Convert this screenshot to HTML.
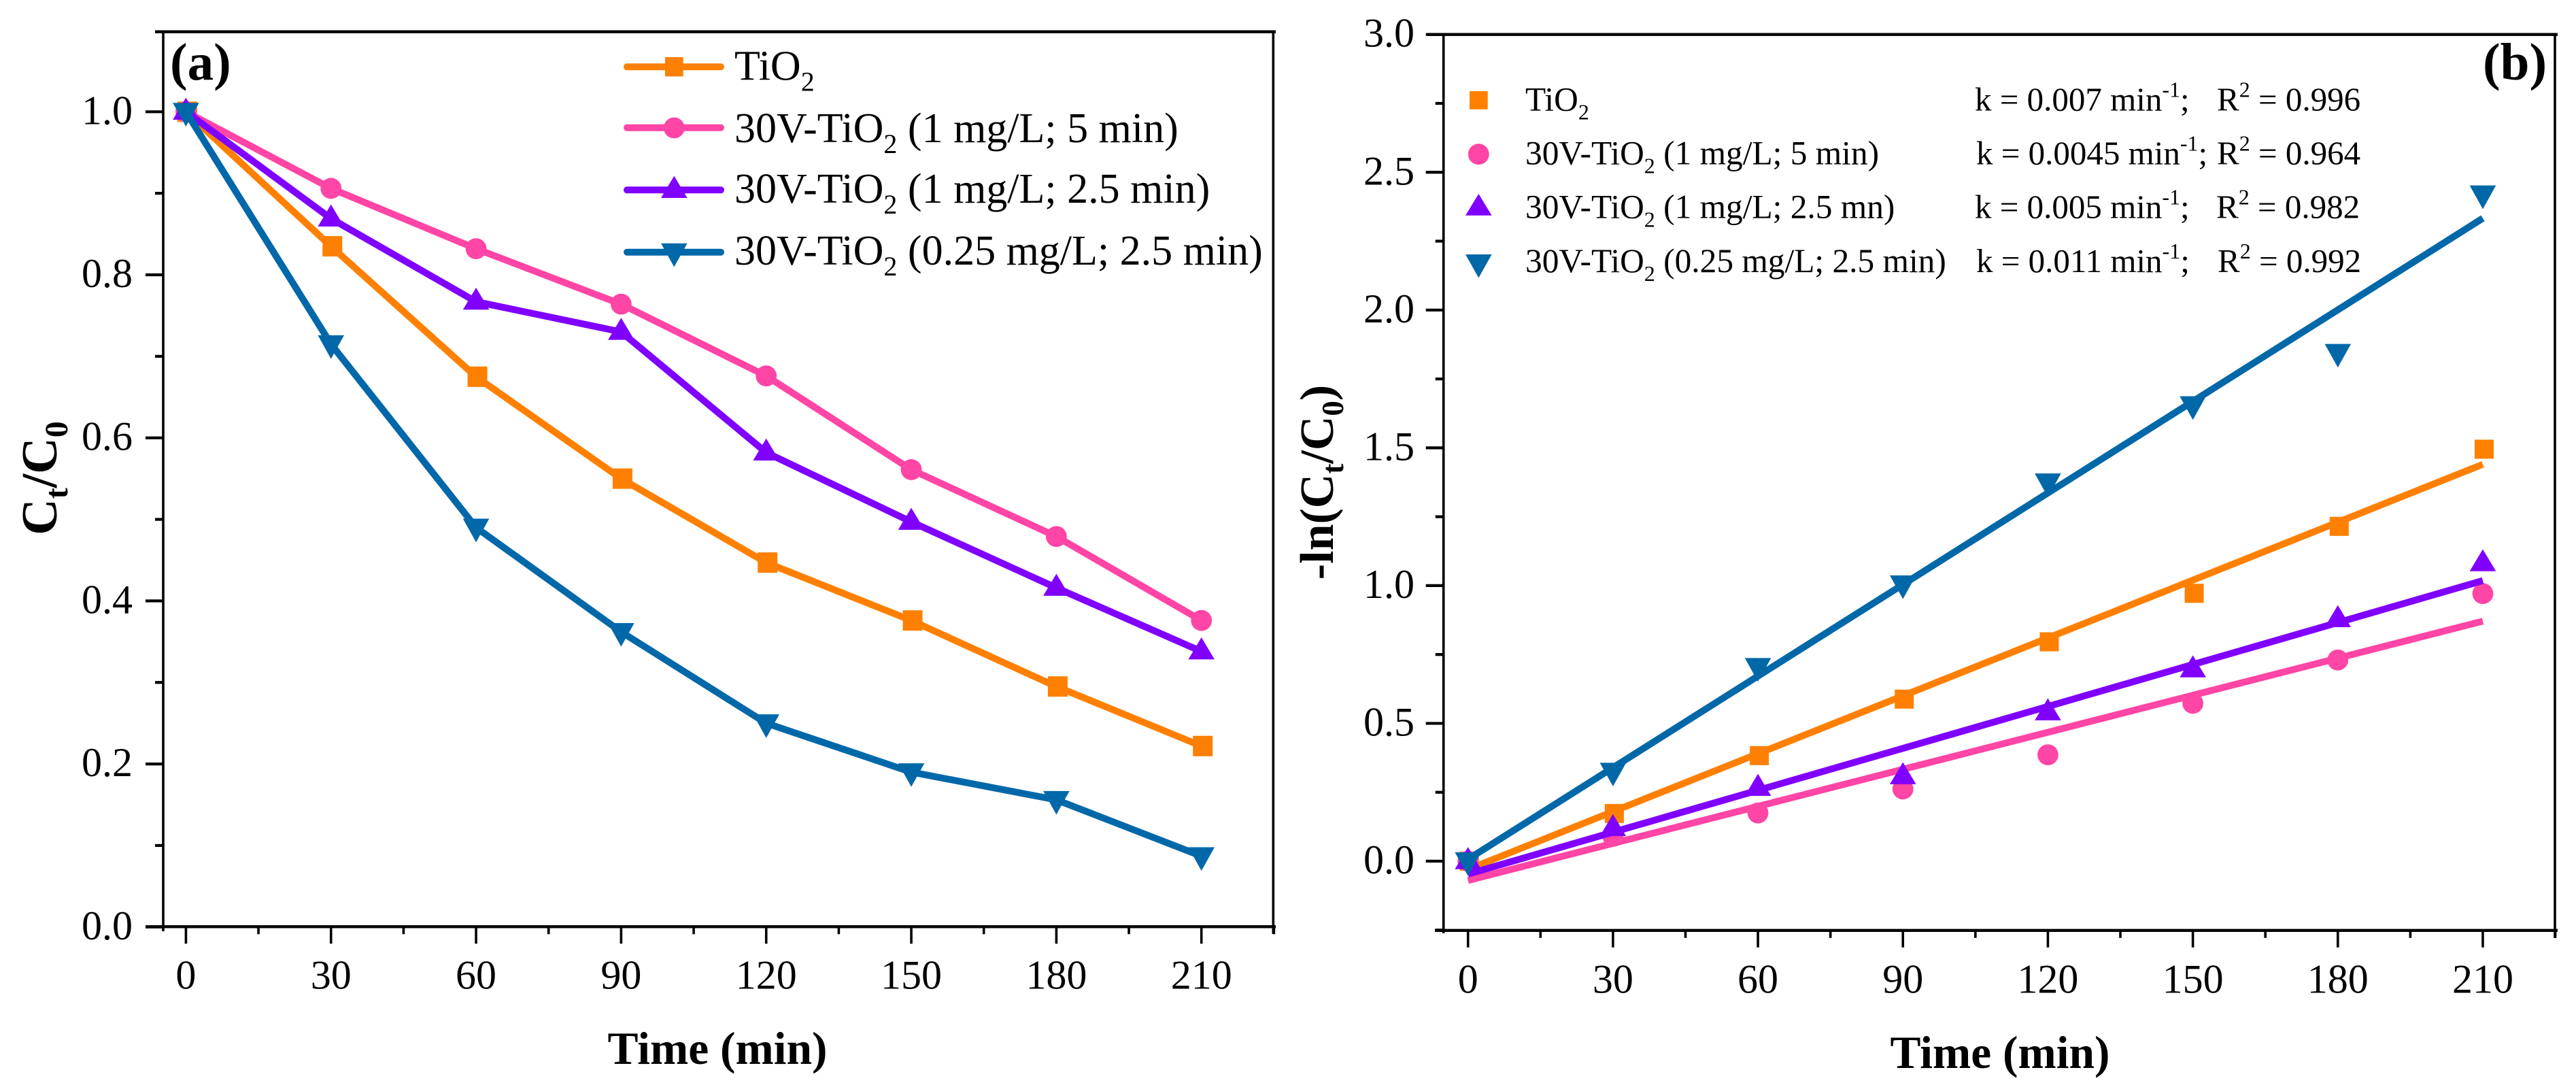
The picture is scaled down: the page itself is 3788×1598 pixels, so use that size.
<!DOCTYPE html>
<html lang="en">
<head>
<meta charset="utf-8">
<title>Photocatalytic degradation kinetics of TiO2 samples</title>
<style>
html,body{margin:0;padding:0;background:#fff;}
svg{display:block;}
text{font-family:"Liberation Serif","Times New Roman",serif;fill:#000;}
.title{font-weight:bold;font-size:67.5px;}
.tick{font-size:60px;}
.lg{font-size:62px;}
.lgb{font-size:49.4px;}
.lgk{font-size:49px;}
.panel{font-weight:bold;font-size:77px;}
</style>
</head>
<body>
<svg id="figure" xmlns="http://www.w3.org/2000/svg" width="3788" height="1598" viewBox="0 0 3788 1598">
  <rect width="3788" height="1598" fill="#fff"/>

  <g id="panel-a">
    <g stroke="#000">
      <line x1="228" y1="46.7" x2="1876" y2="46.7" stroke-width="4.4"/>
      <line x1="214" y1="1362.3" x2="1876" y2="1362.3" stroke-width="4.4"/>
      <line x1="240" y1="45" x2="240" y2="1369" stroke-width="3.6"/>
      <line x1="1872.3" y1="45" x2="1872.3" y2="1373" stroke-width="3.6"/>
    </g>
    <g id="a-ticks"></g>
    <g id="a-series"></g>
    <text class="panel" x="250" y="117">(a)</text>
    <text class="title" x="1055" y="1564" text-anchor="middle">Time (min)</text>
    <text class="title" transform="translate(83 703) rotate(-90)" text-anchor="middle" style="font-size:74px">C<tspan font-size="48" dy="16">t</tspan><tspan dy="-16">/C</tspan><tspan font-size="48" dy="16">0</tspan></text>

    <g>
      <g>
        <line x1="922" y1="98.3" x2="1060" y2="98.3" stroke="#ff8000" stroke-width="10" stroke-linecap="round"/>
        <rect x="978" y="84" width="26.7" height="28.4" fill="#ff8000"/>
        <text class="lg" x="1080" y="117.7">TiO<tspan font-size="40" dy="16">2</tspan></text>
      </g>
      <g>
        <line x1="922" y1="187.7" x2="1060" y2="187.7" stroke="#ff45a5" stroke-width="10" stroke-linecap="round"/>
        <circle cx="991.3" cy="188" r="15.4" fill="#ff45a5"/>
        <text class="lg" x="1080" y="209">30V-TiO<tspan font-size="40" dy="16">2</tspan><tspan dy="-16"> (1 mg/L; 5 min)</tspan></text>
      </g>
      <g>
        <line x1="922" y1="279.3" x2="1060" y2="279.3" stroke="#8000ff" stroke-width="10" stroke-linecap="round"/>
        <polygon points="991.3,258.6 1010.6,291 972,291" fill="#8000ff"/>
        <text class="lg" x="1080" y="298">30V-TiO<tspan font-size="40" dy="16">2</tspan><tspan dy="-16"> (1 mg/L; 2.5 min)</tspan></text>
      </g>
      <g>
        <line x1="922" y1="370.7" x2="1060" y2="370.7" stroke="#0068a9" stroke-width="10" stroke-linecap="round"/>
        <polygon points="972,357.7 1010.6,357.7 991.3,392.4" fill="#0068a9"/>
        <text class="lg" x="1080" y="389">30V-TiO<tspan font-size="40" dy="16">2</tspan><tspan dy="-16"> (0.25 mg/L; 2.5 min)</tspan></text>
      </g>
    </g>
  </g>

  <g id="panel-b">
    <g stroke="#000">
      <line x1="2098" y1="50.7" x2="3761" y2="50.7" stroke-width="4.4"/>
      <line x1="2110" y1="1367.8" x2="3761" y2="1367.8" stroke-width="4.4"/>
      <line x1="2122.7" y1="49" x2="2122.7" y2="1372" stroke-width="3.6"/>
      <line x1="3757" y1="49" x2="3757" y2="1379" stroke-width="3.6"/>
    </g>
    <g id="b-ticks"></g>
    <g id="b-series"></g>
    <text class="panel" x="3651" y="117">(b)</text>
    <text class="title" x="2941" y="1570" text-anchor="middle">Time (min)</text>
    <text class="title" transform="translate(1960 709) rotate(-90)" text-anchor="middle" style="font-size:70px">-ln(C<tspan font-size="45" dy="15">t</tspan><tspan dy="-15">/C</tspan><tspan font-size="45" dy="15">0</tspan><tspan dy="-15">)</tspan></text>

    <g>
      <rect x="2161" y="134" width="26.7" height="26.7" fill="#ff8000"/>
      <circle cx="2174.3" cy="226.7" r="15.4" fill="#ff45a5"/>
      <polygon points="2174.3,285 2193.6,316.7 2155,316.7" fill="#8000ff"/>
      <polygon points="2155,374 2193.6,374 2174.3,408.5" fill="#0068a9"/>
      <text class="lgb" x="2243" y="162.7">TiO<tspan font-size="32" dy="13">2</tspan></text>
      <text class="lgb" x="2243" y="241.7">30V-TiO<tspan font-size="32" dy="13">2</tspan><tspan dy="-13"> (1 mg/L; 5 min)</tspan></text>
      <text class="lgb" x="2243" y="320.7">30V-TiO<tspan font-size="32" dy="13">2</tspan><tspan dy="-13"> (1 mg/L; 2.5 mn)</tspan></text>
      <text class="lgb" x="2243" y="400">30V-TiO<tspan font-size="32" dy="13">2</tspan><tspan dy="-13"> (0.25 mg/L; 2.5 min)</tspan></text>

      <text class="lgk" x="2904" y="162.3">k = 0.007 min<tspan font-size="32" dy="-20">-1</tspan><tspan dy="20">;</tspan></text>
      <text class="lgk" x="3260" y="162.3">R<tspan font-size="32" dy="-20">2</tspan><tspan dy="20"> = 0.996</tspan></text>
      <text class="lgk" x="2906" y="241.7">k = 0.0045 min<tspan font-size="32" dy="-20">-1</tspan><tspan dy="20">;</tspan></text>
      <text class="lgk" x="3260" y="241.7">R<tspan font-size="32" dy="-20">2</tspan><tspan dy="20"> = 0.964</tspan></text>
      <text class="lgk" x="2904" y="320.7">k = 0.005 min<tspan font-size="32" dy="-20">-1</tspan><tspan dy="20">;</tspan></text>
      <text class="lgk" x="3259" y="320.7">R<tspan font-size="32" dy="-20">2</tspan><tspan dy="20"> = 0.982</tspan></text>
      <text class="lgk" x="2906" y="400">k = 0.011 min<tspan font-size="32" dy="-20">-1</tspan><tspan dy="20">;</tspan></text>
      <text class="lgk" x="3261" y="400">R<tspan font-size="32" dy="-20">2</tspan><tspan dy="20"> = 0.992</tspan></text>
    </g>
  </g>
</svg>

<script>
// Shared categories and tick labels
const timeMinutes = [0, 30, 60, 90, 120, 150, 180, 210];
const xMajorTicks = [0, 30, 60, 90, 120, 150, 180, 210];
const xMinorTicks = [15, 45, 75, 105, 135, 165, 195, 225];

// Panel (a): Ct/C0
const aTiO2 = [1.0, 0.835, 0.675, 0.55, 0.447, 0.376, 0.295, 0.222];
const aOneMgFiveMin = [1.0, 0.906, 0.832, 0.764, 0.676, 0.561, 0.479, 0.376];
const aOneMgTwoHalfMin = [1.0, 0.869, 0.767, 0.73, 0.582, 0.497, 0.416, 0.338];
const aQuarterMgTwoHalfMin = [1.0, 0.715, 0.49, 0.362, 0.25, 0.19, 0.156, 0.087];
const aYMajorTicks = [0, 0.2, 0.4, 0.6, 0.8, 1.0];
const aYTickLabels = ['0.0', '0.2', '0.4', '0.6', '0.8', '1.0'];
const aYMinorTicks = [0.1, 0.3, 0.5, 0.7, 0.9];

// Panel (b): -ln(Ct/C0) measured points
const bTiO2 = [0, 0.173, 0.383, 0.588, 0.796, 0.972, 1.215, 1.495];
const bOneMgFiveMin = [0, 0.09, 0.175, 0.262, 0.386, 0.573, 0.73, 0.971];
const bOneMgTwoHalfMin = [0, 0.12, 0.266, 0.308, 0.54, 0.696, 0.878, 1.081];
const bQuarterMgTwoHalfMin = [0, 0.325, 0.705, 1.005, 1.375, 1.655, 1.845, 2.42];

// Panel (b): linear fit values at t = 0 and t = 210
const fitTimes = [0, 210];
const fitTiO2 = [-0.03, 1.44];
const fitOneMgFiveMin = [-0.07, 0.871];
const fitOneMgTwoHalfMin = [-0.047, 1.018];
const fitQuarterMgTwoHalfMin = [0.007, 2.333];

const bYMajorTicks = [0, 0.5, 1.0, 1.5, 2.0, 2.5, 3.0];
const bYTickLabels = ['0.0', '0.5', '1.0', '1.5', '2.0', '2.5', '3.0'];
const bYMinorTicks = [-0.25, 0.25, 0.75, 1.25, 1.75, 2.25, 2.75];

const NS = 'http://www.w3.org/2000/svg';

const axA = {
  x: function (t) { return 273.4 + t * 7.111; },
  y: function (v) { return 1362.8 - v * 1198.5; }
};
const axB = {
  x: function (t) { return 2158.7 + t * 7.106; },
  y: function (v) { return 1266 - v * 405.1; }
};

function hLine(parent, x1, x2, y, name) {
  const el = document.createElementNS(NS, 'line');
  el.setAttribute('x1', x1);
  el.setAttribute('x2', x2);
  el.setAttribute('y1', y);
  el.setAttribute('y2', y);
  el.setAttribute('stroke', '#000');
  el.setAttribute('stroke-width', '4.2');
  
  
  parent.appendChild(el);
}

function vLine(parent, x, y1, y2, name) {
  const el = document.createElementNS(NS, 'line');
  el.setAttribute('x1', x);
  el.setAttribute('x2', x);
  el.setAttribute('y1', y1);
  el.setAttribute('y2', y2);
  el.setAttribute('stroke', '#000');
  el.setAttribute('stroke-width', '3.6');
  
  
  parent.appendChild(el);
}

function tickLabel(parent, x, y, anchor, str, name) {
  const el = document.createElementNS(NS, 'text');
  el.setAttribute('x', x);
  el.setAttribute('y', y);
  el.setAttribute('text-anchor', anchor);
  el.setAttribute('class', 'tick');
  el.textContent = str;
  
  
  parent.appendChild(el);
}

function drawTicks(parent, ax, cfg, yMajor, yLabels, yMinor) {
  xMajorTicks.forEach(function (t) {
    vLine(parent, ax.x(t), cfg.axisBottom, cfg.axisBottom + cfg.xMajorLen, 'x-tick-' + t);
    tickLabel(parent, ax.x(t), cfg.xLabelY, 'middle', String(t), 'x-tick-label-' + t);
  });
  xMinorTicks.forEach(function (t) {
    vLine(parent, ax.x(t), cfg.axisBottom, cfg.axisBottom + cfg.xMinorLen, 'x-minor-tick-' + t);
  });
  yMajor.forEach(function (v, i) {
    hLine(parent, cfg.axisLeft - 26, cfg.axisLeft, ax.y(v), 'y-tick-' + yLabels[i]);
    tickLabel(parent, cfg.yLabelX, ax.y(v) + 18, 'end', yLabels[i], 'y-tick-label-' + yLabels[i]);
  });
  yMinor.forEach(function (v) {
    hLine(parent, cfg.axisLeft - 12, cfg.axisLeft, ax.y(v), 'y-minor-tick-' + v);
  });
}

function addMarker(parent, shape, cx, cy, color, size, name) {
  let el;
  if (shape === 'square') {
    el = document.createElementNS(NS, 'rect');
    el.setAttribute('x', cx + 2 - size.sw / 2);
    el.setAttribute('y', cy - size.sh / 2);
    el.setAttribute('width', size.sw);
    el.setAttribute('height', size.sh);
  } else if (shape === 'circle') {
    el = document.createElementNS(NS, 'circle');
    el.setAttribute('cx', cx);
    el.setAttribute('cy', cy);
    el.setAttribute('r', 15.4);
  } else if (shape === 'up') {
    el = document.createElementNS(NS, 'polygon');
    el.setAttribute('points', cx + ',' + (cy - 20.7) + ' ' + (cx + 19.3) + ',' + (cy + 11.7) + ' ' + (cx - 19.3) + ',' + (cy + 11.7));
  } else {
    el = document.createElementNS(NS, 'polygon');
    el.setAttribute('points', (cx - 19.3) + ',' + (cy - 13) + ' ' + (cx + 19.3) + ',' + (cy - 13) + ' ' + cx + ',' + (cy + 21.7));
  }
  el.setAttribute('fill', color);
  
  
  parent.appendChild(el);
}

function addPolyline(parent, ax, xs, ys, color, name) {
  const el = document.createElementNS(NS, 'polyline');
  el.setAttribute('points', xs.map(function (t, i) { return ax.x(t) + ',' + ax.y(ys[i]); }).join(' '));
  el.setAttribute('fill', 'none');
  el.setAttribute('stroke', color);
  el.setAttribute('stroke-width', '10');
  el.setAttribute('stroke-linejoin', 'round');
  
  
  parent.appendChild(el);
}

const gTicksA = document.getElementById('a-ticks');
const gTicksB = document.getElementById('b-ticks');
const gSeriesA = document.getElementById('a-series');
const gSeriesB = document.getElementById('b-series');

drawTicks(gTicksA, axA, { axisBottom: 1362.3, axisLeft: 240, xMajorLen: 25, xMinorLen: 11, xLabelY: 1453.3, yLabelX: 195 }, aYMajorTicks, aYTickLabels, aYMinorTicks);
drawTicks(gTicksB, axB, { axisBottom: 1367.8, axisLeft: 2122.7, xMajorLen: 25, xMinorLen: 11, xLabelY: 1459.3, yLabelX: 2080 }, bYMajorTicks, bYTickLabels, bYMinorTicks);

// Panel (a) series: line with markers
function drawLineSeries(values, shape, color, key) {
  addPolyline(gSeriesA, axA, timeMinutes, values, color, 'line-a-' + key);
  values.forEach(function (v, i) {
    addMarker(gSeriesA, shape, axA.x(timeMinutes[i]), axA.y(v), color, { sw: 29, sh: 30 }, 'point-a-' + key + '-' + timeMinutes[i]);
  });
}
drawLineSeries(aTiO2, 'square', '#ff8000', 'tio2');
drawLineSeries(aOneMgFiveMin, 'circle', '#ff45a5', '1mg-5min');
drawLineSeries(aOneMgTwoHalfMin, 'up', '#8000ff', '1mg-2-5min');
drawLineSeries(aQuarterMgTwoHalfMin, 'down', '#0068a9', '0-25mg-2-5min');

// Panel (b) series: scatter points with a fit line
function drawFitSeries(values, fit, shape, color, key) {
  values.forEach(function (v, i) {
    addMarker(gSeriesB, shape, axB.x(timeMinutes[i]), axB.y(v), color, { sw: 28, sh: 28 }, 'point-b-' + key + '-' + timeMinutes[i]);
  });
  addPolyline(gSeriesB, axB, fitTimes, fit, color, 'fit-line-b-' + key);
}
drawFitSeries(bTiO2, fitTiO2, 'square', '#ff8000', 'tio2');
drawFitSeries(bOneMgFiveMin, fitOneMgFiveMin, 'circle', '#ff45a5', '1mg-5min');
drawFitSeries(bOneMgTwoHalfMin, fitOneMgTwoHalfMin, 'up', '#8000ff', '1mg-2-5min');
drawFitSeries(bQuarterMgTwoHalfMin, fitQuarterMgTwoHalfMin, 'down', '#0068a9', '0-25mg-2-5min');
</script>
</body>
</html>
